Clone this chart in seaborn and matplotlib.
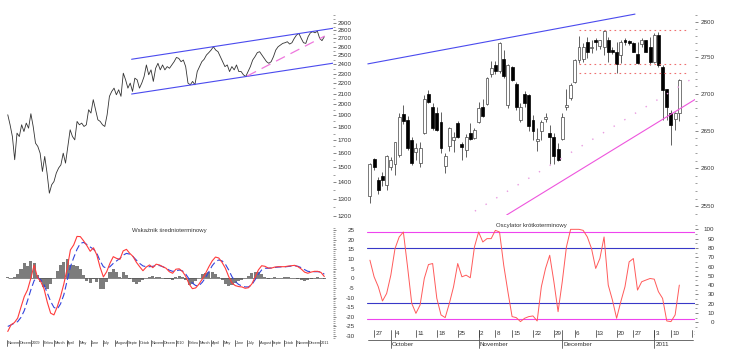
import numpy as np
import pandas as pd
import matplotlib
matplotlib.use("Agg")
import matplotlib.pyplot as plt
import matplotlib.dates as mdates
import matplotlib.ticker as mticker
import matplotlib.transforms as mtransforms
import seaborn as sns

# ---------------- left: long term chart, Nov 2008 - Jan 2011 (sampled closes)
long_start = "2008-11-03"
long_end = "2011-01-12"
long_close = [1906, 1821, 1726, 1553, 1753, 1726, 1821, 1766, 1835, 1793, 1915, 1807, 1675, 1650,
              1600, 1472, 1576, 1461, 1333, 1385, 1406, 1461, 1495, 1517, 1600, 1529, 1650, 1780,
              1726, 1700, 1849, 1821, 1835, 1807, 1821, 1950, 1921, 2042, 1950, 1863, 1849, 1821,
              1807, 1906, 2073, 2120, 2152, 2088, 2136, 2073, 2304, 2235, 2152, 2202, 2120, 2252,
              2235, 2152, 2202, 2269, 2392, 2287, 2339, 2219, 2356, 2410, 2339, 2392, 2339, 2374,
              2356, 2392, 2428, 2475, 2465, 2428, 2446, 2374, 2202, 2185, 2219, 2185, 2321, 2374,
              2428, 2455, 2503, 2530, 2560, 2599, 2560, 2541, 2484, 2428, 2374, 2392, 2321, 2374,
              2339, 2392, 2321, 2321, 2287, 2269, 2321, 2374, 2446, 2484, 2530, 2541, 2503, 2465,
              2428, 2410, 2428, 2484, 2560, 2599, 2619, 2639, 2647, 2659, 2631, 2647, 2700, 2742,
              2762, 2700, 2647, 2639, 2721, 2770, 2783, 2770, 2790, 2700, 2672, 2721]

# trend channel and support drawn on the long chart (date, price)
channel_dates = ["2009-09-12", "2011-02-03"]
channel_upper = [2455, 2827]
channel_lower = [2095, 2411]
support_dates = ["2010-07-01", "2011-01-13"]
support_vals = [2274, 2729]

# medium term indicator (sampled)
macd_line = [-27.6, -24.1, -23, -20.7, -15, -9.5, -6, 0, 6.9, 0.5,
             -1.7, -5.5, -12.5, -18.1, -19, -14.8, -9.5, -3, 5, 14.7,
             17.3, 21.7, 21.6, 19.4, 16.9, 14, 15.8, 12.1, 5.7, 0.7,
             3.4, 7.8, 11.2, 10.3, 9.8, 14.2, 15, 12.9, 11.3, 8.3,
             6, 3.9, 5.8, 6.9, 5.5, 7.3, 6.9, 6, 5.2, 3.4,
             2.6, 4.7, 4.9, 3.5, 0.9, -3, -5.4, -5, -3, -0.4,
             2.6, 6, 9, 11, 10.5, 8.2, 5.2, 0.9, -2.5, -3.8,
             -4.3, -4.5, -5.2, -4.9, -3, 0.5, 4.3, 6.5, 6.2, 5.3,
             5.3, 5.8, 6, 6, 6, 6.3, 6.5, 6.7, 6, 4.8,
             3.2, 2.6, 3.2, 3.6, 3.6, 3, 0.9]
macd_signal = [-25, -24.2, -23.3, -22.5, -20.3, -16.8, -11.6, -6, -1.2, 0.5,
               -0.8, -3.4, -7.7, -12, -15.1, -16, -13.3, -8.6, -1.3, 6,
               10.7, 15, 18.1, 18.6, 17.5, 16.2, 15.1, 13, 9, 6,
               5.2, 6, 7.7, 9, 10.3, 12, 12.9, 12.5, 11.2, 9.4,
               7.7, 6.4, 6, 6, 6.2, 6.6, 6.6, 6, 5.2, 4.2,
               3.6, 3.8, 4.3, 3.8, 2.1, -0.4, -2.5, -3.8, -3.8, -2.1,
               0.4, 3.4, 6.5, 8.6, 9.5, 9, 7.3, 4.3, 0.8, -1.7,
               -3.2, -4, -4.5, -4.5, -3.4, -0.8, 2.1, 4.3, 5.2, 5.2,
               5.3, 5.6, 5.8, 5.9, 5.9, 6.1, 6.3, 6.5, 6.2, 5.5,
               4.5, 3.6, 3.4, 3.4, 3.4, 3.3, 2.1]
macd_hist = [0.5, 0, 0.5, 2, 5, 8, 6.5, 9, 8, 1.5,
             -2, -4.5, -5.5, -3, 0, 4, 7, 8.5, 10, 7,
             7, 6.5, 5, 1.5, -1.5, -2.5, -0.5, -2, -5.5, -5.5,
             -2, 3, 4.8, 3, 0.5, 3.5, 1.8, -0.5, -2, -3,
             -2, -1, 0, 0.5, 1, 0.5, 0.8, 0.3, -0.3, -0.5,
             -0.8, 0.5, 1, 0.5, -1, -3.5, -3, -1.5, 0.2, 2,
             2.8, 3.3, 3, 2, 0.8, -1, -3, -4, -3.5, -2.5,
             -1.5, -0.8, 0, 1.2, 2.5, 3.3, 3.3, 2, 0.5, -0.2,
             0, 0.4, 0.2, 0.3, 0.4, 0.4, 0, 0, -0.2, -1,
             -1.5, -1, -0.2, 0.2, 0.4, 0.2, -0.4]

long_months = ["Novem", "Decem", "2009", "Febru", "March", "April", "May", "June", "July",
               "August", "Septe", "Octob", "Novem", "Decem", "2010", "Febru", "March", "April",
               "May", "June", "July", "August", "Septe", "Octob", "Novem", "Decem", "2011"]

# ---------------- right: daily candles 24.09.2010 - 12.01.2011
holidays = ["2010-11-01", "2010-11-11", "2010-12-24", "2011-01-06"]
opens = [2563, 2612, 2585, 2590, 2578, 2602, 2606, 2617, 2672, 2664,
         2637, 2622, 2607, 2647, 2699, 2682, 2673, 2661, 2603, 2629,
         2637, 2660, 2632, 2624, 2647, 2640, 2661, 2682, 2686, 2727,
         2740, 2731, 2748, 2685, 2736, 2713, 2664, 2699, 2698, 2664,
         2636, 2649, 2665, 2647, 2641, 2625, 2639, 2682, 2694, 2716,
         2746, 2748, 2771, 2763, 2775, 2766, 2765, 2774, 2761, 2758,
         2754, 2775, 2773, 2770, 2755, 2769, 2774, 2765, 2744, 2782,
         2737, 2706, 2673, 2665, 2673]
highs = [2607, 2613, 2589, 2595, 2617, 2615, 2635, 2673, 2685, 2669,
         2642, 2633, 2635, 2698, 2705, 2687, 2682, 2675, 2620, 2655,
         2648, 2663, 2635, 2646, 2660, 2653, 2689, 2692, 2723, 2745,
         2745, 2771, 2760, 2741, 2738, 2716, 2687, 2703, 2700, 2671,
         2653, 2664, 2673, 2658, 2647, 2633, 2673, 2707, 2714, 2748,
         2780, 2770, 2779, 2774, 2777, 2775, 2789, 2779, 2765, 2772,
         2774, 2777, 2774, 2772, 2771, 2777, 2775, 2779, 2784, 2785,
         2739, 2707, 2678, 2675, 2720]
lows = [2555, 2598, 2566, 2576, 2572, 2598, 2591, 2615, 2659, 2624,
        2604, 2611, 2602, 2645, 2687, 2651, 2649, 2620, 2593, 2623,
        2622, 2640, 2611, 2615, 2637, 2638, 2660, 2668, 2685, 2723,
        2727, 2728, 2721, 2680, 2718, 2678, 2662, 2682, 2649, 2637,
        2623, 2637, 2661, 2606, 2606, 2610, 2637, 2678, 2691, 2715,
        2742, 2744, 2749, 2756, 2760, 2762, 2754, 2743, 2755, 2729,
        2742, 2768, 2767, 2757, 2741, 2765, 2757, 2740, 2742, 2737,
        2664, 2664, 2631, 2651, 2663]
closes = [2606, 2602, 2571, 2585, 2616, 2611, 2634, 2668, 2663, 2626,
          2607, 2626, 2627, 2693, 2689, 2653, 2651, 2626, 2616, 2653,
          2642, 2642, 2628, 2642, 2638, 2651, 2681, 2669, 2722, 2735,
          2731, 2770, 2724, 2740, 2719, 2682, 2682, 2687, 2656, 2649,
          2638, 2662, 2668, 2641, 2616, 2611, 2668, 2684, 2712, 2746,
          2765, 2765, 2757, 2764, 2771, 2774, 2787, 2757, 2758, 2741,
          2772, 2771, 2770, 2758, 2742, 2775, 2758, 2744, 2782, 2740,
          2705, 2682, 2657, 2673, 2719]
stoch = [66.8, 48.9, 38.2, 22.9, 31, 50.7, 79.3, 91.8, 97.1, 59.6,
         20.4, 9.6, 18.6, 47.1, 62.1, 63.2, 25.7, 7.9, 5, 20.4,
         38.2, 63.2, 48.9, 50.7, 47.9, 81.1, 97.1, 86.4, 90, 90,
         98.9, 97.1, 61.4, 32.9, 6.1, 5, 0.7, 4.3, 6.1, 6.8,
         1.4, 38.2, 57.9, 72.1, 43.6, 11.4, 43.6, 81.1, 100, 100,
         100, 98.9, 91.8, 79.3, 57.9, 68.6, 91.8, 40, 23.9, 4.3,
         22.1, 38.2, 65, 68.6, 34.6, 43.6, 45.4, 47.1, 46.4, 32.9,
         25.7, 1.4, 0.7, 7.9, 40]

# trend lines on the candle chart (bar number, price)
resist_idx = [-0.5, 63.4]
resist_val = [2741, 2811]
support_idx = [32.7, 77.75]
support_val = [2539, 2692]
support2_idx = [25.1, 76.6]
support2_val = [2544, 2719]
levels = [2788, 2741, 2728]
levels_idx = [50, 76]
osc_levels = [97, 80, 21, 4]
osc_colors = ["#ee44ee", "#3838c8", "#3838c8", "#ee44ee"]
month_names = {10: "October", 11: "November", 12: "December"}

# ---------------- figure
sns.set_style("white")
plt.rcParams["font.family"] = ["Liberation Sans", "DejaVu Sans"]
TXT = "#333333"

W, H = 740, 359
fig = plt.figure(figsize=(W / 100, H / 100), dpi=100)


def rect(x0, y0, x1, y1):
    return [x0 / W, 1 - y1 / H, (x1 - x0) / W, (y1 - y0) / H]


ax_lp = fig.add_axes(rect(5, 12, 333, 217))
ax_lm = fig.add_axes(rect(5, 226.2, 333, 339))
ax_rp = fig.add_axes(rect(367, 12, 695, 215))
ax_ro = fig.add_axes(rect(367, 221.9, 695, 329.7))


def style(ax):
    for s in ax.spines.values():
        s.set_visible(False)
    ax.grid(False)
    ax.set_xlabel("")
    ax.set_ylabel("")
    ax.yaxis.tick_right()
    ax.tick_params(axis="y", which="major", length=2, width=0.5, color="#555555",
                   labelsize=4.5, labelcolor=TXT, pad=1.5)
    ax.tick_params(axis="y", which="minor", length=1.2, width=0.5, color="#777777")
    ax.tick_params(axis="x", which="both", bottom=False, labelbottom=False)


# left price
long_dates = pd.date_range(long_start, long_end, periods=len(long_close))
sns.lineplot(x=long_dates, y=long_close, ax=ax_lp, color="#333333", lw=0.6)
cd = pd.to_datetime(channel_dates)
sns.lineplot(x=cd, y=channel_upper, ax=ax_lp, color="#4a4aee", lw=0.8)
sns.lineplot(x=cd, y=channel_lower, ax=ax_lp, color="#4a4aee", lw=0.8)
sns.lineplot(x=pd.to_datetime(support_dates), y=support_vals, ax=ax_lp, color="#ee77dd",
             lw=0.9, linestyle=(0, (8, 5)))
ax_lp.set_yscale("log")
ax_lp.set_xlim(pd.Timestamp("2008-10-27"), pd.Timestamp("2011-02-03"))
ax_lp.set_ylim(1196, 3045)
style(ax_lp)
maj = list(range(1200, 3000, 100))
ax_lp.set_yticks(maj, labels=[str(v) for v in maj])
ax_lp.set_yticks(list(range(1250, 3050, 50)), minor=True)
ax_lp.yaxis.set_minor_formatter(mticker.NullFormatter())

# left indicator
macd_dates = pd.date_range(long_start, long_end, periods=len(macd_line))
ax_lm.bar(macd_dates, macd_hist, width=7.8, color="#7c7c7c", linewidth=0)
ax_lm.hlines(0, macd_dates[0], macd_dates[-1], color="#555555", lw=0.5)
sns.lineplot(x=macd_dates, y=macd_signal, ax=ax_lm, color="#3344dd", lw=0.8,
             linestyle=(0, (6, 3)))
sns.lineplot(x=macd_dates, y=macd_line, ax=ax_lm, color="#ff3b3b", lw=0.8)
ax_lm.set_xlim(pd.Timestamp("2008-10-27"), pd.Timestamp("2011-02-03"))
ax_lm.set_ylim(-31.5, 27)
style(ax_lm)
mt = list(range(-30, 26, 5))
ax_lm.set_yticks(mt, labels=[str(v) for v in mt], ha="right")
ax_lm.set_yticks(list(range(-31, 27)), minor=True)
ax_lm.tick_params(axis="y", which="major", pad=13.5)
ax_lm.text(0.5, 0.965, "Wskaźnik średnioterminowy", transform=ax_lm.transAxes,
           ha="center", va="center", fontsize=4.3, color=TXT)

trans = mtransforms.blended_transform_factory(ax_lm.transData, ax_lm.transAxes)
month_starts = pd.date_range("2008-11-01", "2011-01-01", freq="MS")
for d, name in zip(month_starts, long_months):
    xn = mdates.date2num(d)
    ax_lm.plot([xn, xn], [-0.01, -0.065], transform=trans, color="#333333", lw=0.5,
               clip_on=False)
    ax_lm.text(xn + 1.5, -0.037, name, transform=trans, fontsize=2.8, ha="left",
               va="center", color=TXT, clip_on=False)

# right candles
o = np.array(opens, float)
hgh = np.array(highs, float)
lw_ = np.array(lows, float)
c = np.array(closes, float)
idx = np.arange(len(c))
up = c >= o
ax_rp.vlines(idx, lw_, hgh, color="#222222", lw=0.5, zorder=1)
ax_rp.bar(idx[up], np.maximum(c - o, 0.8)[up], bottom=o[up], width=0.7, color="white",
          edgecolor="#444444", linewidth=0.5, zorder=2)
ax_rp.bar(idx[~up], (o - c)[~up], bottom=c[~up], width=0.7, color="black",
          edgecolor="black", linewidth=0.5, zorder=2)
sns.lineplot(x=resist_idx, y=resist_val, ax=ax_rp, color="#4a4aee", lw=0.8, zorder=3)
sns.lineplot(x=support_idx, y=support_val, ax=ax_rp, color="#ee55dd", lw=0.8, zorder=3)
sns.lineplot(x=support2_idx, y=support2_val, ax=ax_rp, color="#e99be0", lw=1.0,
             linestyle=(0, (1, 8)), zorder=3)
for lv in levels:
    ax_rp.hlines(lv, levels_idx[0], levels_idx[1], color="#ee7070", lw=0.8,
                 linestyle=(0, (1.5, 3)), zorder=3)
ax_rp.set_yscale("log")
ax_rp.set_xlim(-0.7, 77.75)
ax_rp.set_ylim(2539, 2814)
style(ax_rp)
rmaj = list(range(2550, 2801, 50))
ax_rp.set_yticks(rmaj, labels=[str(v) for v in rmaj])
ax_rp.set_yticks(list(range(2540, 2815, 10)), minor=True)
ax_rp.yaxis.set_minor_formatter(mticker.NullFormatter())
ax_rp.tick_params(axis="y", which="major", pad=2)

# right oscillator
sns.lineplot(x=idx, y=stoch, ax=ax_ro, color="#ff5a5a", lw=0.7, zorder=3)
for lv, col in zip(osc_levels, osc_colors):
    ax_ro.axhline(lv, color=col, lw=0.8, zorder=2)
ax_ro.set_xlim(-0.7, 77.75)
ax_ro.set_ylim(-8, 108)
style(ax_ro)
ot = list(range(0, 101, 10))
ax_ro.set_yticks(ot, labels=[str(v) for v in ot], ha="right")
ax_ro.set_yticks(list(range(-5, 106, 5)), minor=True)
ax_ro.tick_params(axis="y", which="major", pad=12)
ax_ro.text(0.5, 0.965, "Oscylator krótkoterminowy", transform=ax_ro.transAxes,
           ha="center", va="center", fontsize=4.3, color=TXT)

# date axis under the oscillator
cal = pd.bdate_range("2010-09-24", "2011-01-17")
cal = cal[~cal.isin(pd.to_datetime(holidays))]
rtrans = mtransforms.blended_transform_factory(ax_ro.transData, ax_ro.transAxes)
clip = mtransforms.TransformedBbox(mtransforms.Bbox([[0, -0.5], [1, 1]]), ax_ro.transAxes)
for i in range(1, len(cal)):
    if cal[i].weekday() < cal[i - 1].weekday():
        ax_ro.plot([i, i], [-0.005, -0.07], transform=rtrans, color="#333333", lw=0.5,
                   clip_on=False)
        t = ax_ro.text(i + 0.3, -0.036, str(cal[i].day), transform=rtrans, fontsize=4.5,
                       ha="left", va="center", color=TXT)
        t.set_clip_path(None)
        t.set_clip_box(clip)
        t.set_clip_on(True)
    if cal[i].month != cal[i - 1].month:
        name = month_names.get(cal[i].month, str(cal[i].year))
        ax_ro.plot([i, i], [-0.005, -0.17], transform=rtrans, color="#333333", lw=0.5,
                   clip_on=False)
        ax_ro.text(i + 0.3, -0.138, name, transform=rtrans, fontsize=4.5, ha="left",
                   va="center", color=TXT, clip_on=False)
ax_ro.plot([0.003, 0.995], [-0.096, -0.096], transform=ax_ro.transAxes, color="#555555",
           lw=0.6, clip_on=False)

fig.savefig("out.png", dpi=100)
